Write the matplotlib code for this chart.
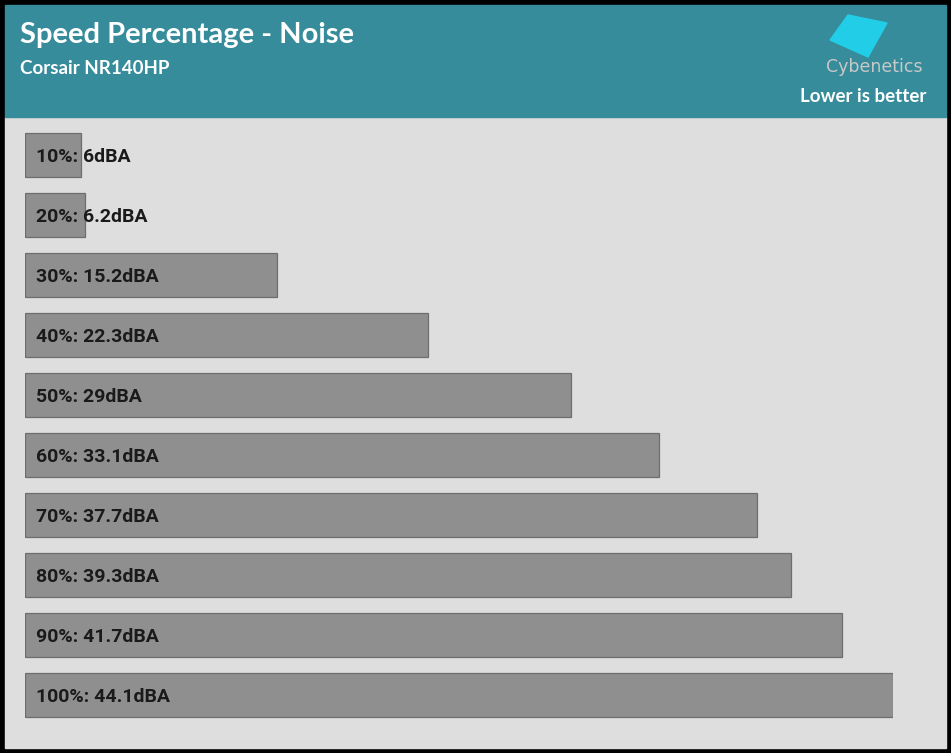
import matplotlib
matplotlib.use('Agg')
import matplotlib.pyplot as plt
from matplotlib.patches import Rectangle, Polygon
from matplotlib.transforms import blended_transform_factory

# data
speeds = ['10%', '20%', '30%', '40%', '50%', '60%', '70%', '80%', '90%', '100%']
noise = [6, 6.2, 15.2, 22.3, 29, 33.1, 37.7, 39.3, 41.7, 44.1]
title = 'Speed Percentage - Noise'
subtitle = 'Corsair NR140HP'
note = 'Lower is better'

W, H = 951, 753
fig = plt.figure(figsize=(W / 100, H / 100), dpi=100)
fig.patch.set_facecolor('black')

def fx(px):
    return px / W

def fy(py):
    return 1 - py / H

# body + header backgrounds
fig.patches.append(Rectangle((fx(5), fy(748)), fx(941), (748 - 117) / H,
                             transform=fig.transFigure, color='#dedede', zorder=0))
fig.patches.append(Rectangle((fx(5), fy(117)), fx(941), (117 - 5) / H,
                             transform=fig.transFigure, color='#368c9a', zorder=0))

# header texts
fig.text(fx(20), fy(35), title, color='white', fontsize=21, fontweight='bold',
         family='Lato', va='center', ha='left')
fig.text(fx(20), fy(68), subtitle, color='white', fontsize=13.5, fontweight='bold',
         family='Lato', va='center', ha='left')
fig.text(fx(926), fy(97), note, color='white', fontsize=13.5, fontweight='bold',
         family='Lato', va='center', ha='right')

# logo
logo = [(848, 15), (887, 23), (868, 57), (830, 40)]
fig.patches.append(Polygon([(fx(x), fy(y)) for x, y in logo], closed=True,
                           transform=fig.transFigure, color='#22cde8', zorder=1))
fig.text(fx(874), fy(67), 'Cybenetics', color='#c8c8c8', fontsize=12.5,
         family='DejaVu Sans', va='center', ha='center')

# bars
x0 = 3.38
ax = fig.add_axes([fx(25), fy(725), (893 - 25) / W, 600 / H])
ax.set_zorder(3)
ax.set_facecolor('none')
ypos = list(range(len(noise)))
ax.barh(ypos, [v - x0 for v in noise], left=x0, height=44 / 60,
        color='#8f8f8f', edgecolor='#6e6e6e', linewidth=0.9)
ax.set_xlim(x0, 44.1)
ax.set_ylim(len(noise) - 0.5, -0.5)
ax.axis('off')

tr = blended_transform_factory(ax.transAxes, ax.transData)
for i, (s, v) in enumerate(zip(speeds, noise)):
    ax.text(11 / 868, i + 0.03, f'{s}: {v:g}dBA', transform=tr, fontsize=14,
            fontweight='bold', family='Roboto', color='#1a1a1a',
            va='center', ha='left')

fig.savefig('out.png', dpi=100, facecolor=fig.get_facecolor())
